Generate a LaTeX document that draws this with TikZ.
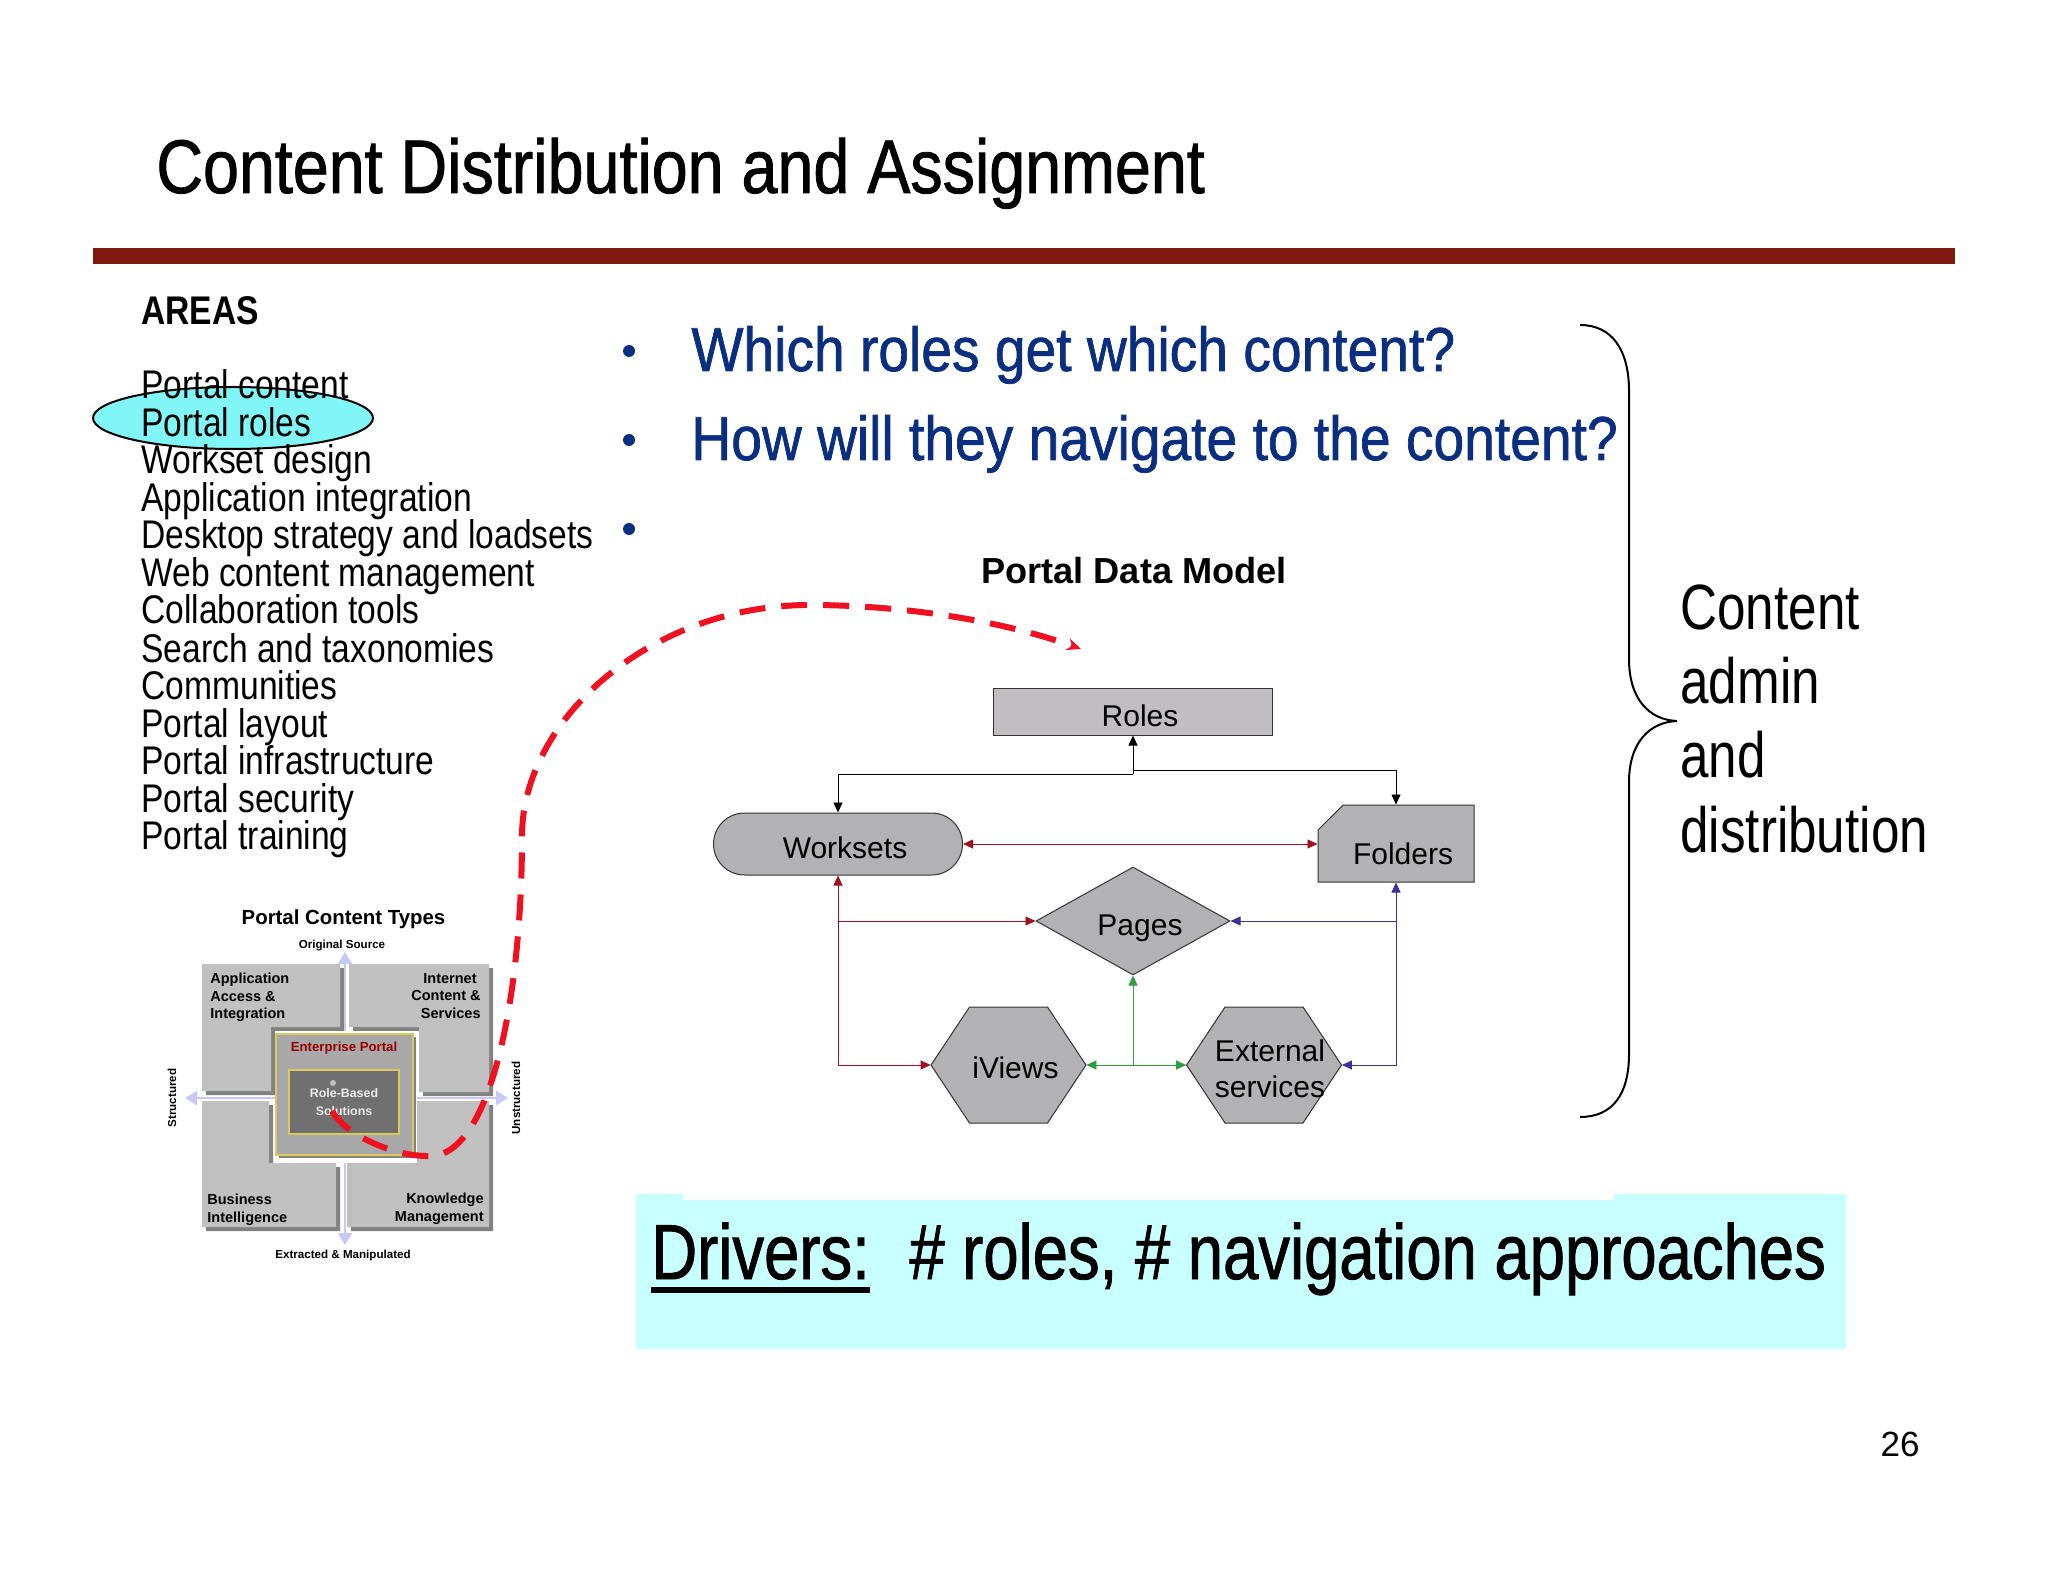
\documentclass[tikz,border=0pt]{standalone}
\usepackage{fontspec}
\setmainfont{Liberation Sans}
\newfontfamily\narrow[FakeStretch=0.84]{Liberation Sans}
\newfontfamily\narrowadmin[FakeStretch=0.80]{Liberation Sans}
\newfontfamily\narrowtitle[FakeStretch=0.85,FakeBold=1.1]{Liberation Sans}
\newfontfamily\narrowblue[FakeStretch=0.89,FakeBold=1.1]{Liberation Sans}
\newfontfamily\narrowdrive[FakeStretch=0.813,FakeBold=1.1]{Liberation Sans}
\usetikzlibrary{arrows.meta,shapes.geometric,shapes.misc}
\definecolor{barred}{HTML}{7F1A0E}
\definecolor{navy}{HTML}{0B2F80}
\definecolor{oval}{HTML}{80F6F6}
\definecolor{drivebg}{HTML}{C8FFFF}
\definecolor{boxgrey}{HTML}{B2B1B3}
\definecolor{rolesgrey}{HTML}{C0BEC2}
\definecolor{quadgrey}{HTML}{C0C0C0}
\definecolor{quadshade}{HTML}{828282}
\definecolor{axis}{HTML}{C8C8F5}
\definecolor{goldline}{HTML}{D9C95E}
\definecolor{linkred}{HTML}{A01020}
\definecolor{linkblue}{HTML}{3A3098}
\definecolor{linkgreen}{HTML}{2E9E40}
\definecolor{curvered}{HTML}{F01020}
\newcommand{\nudge}[3]{\hspace*{#1}\raisebox{#2}[\height][\depth]{#3}}
\tikzset{
  area/.style={anchor=base west,inner sep=0pt,font=\narrow\fontsize{20}{20}\selectfont},
  blueline/.style={anchor=base west,inner sep=0pt,text=navy,font=\narrowblue\fontsize{31}{31}\selectfont},
  adminline/.style={anchor=base west,inner sep=0pt,font=\narrowadmin\fontsize{32}{32}\selectfont},
  bulletdot/.style={circle,fill=navy,minimum size=6pt,inner sep=0pt},
  modelbox/.style={draw=black!80,line width=0.5pt,fill=boxgrey,inner sep=0pt,font=\fontsize{15}{18}\selectfont},
  hexbody/.style={draw=black!80,line width=0.5pt,fill=boxgrey},
  hextext/.style={inner sep=0pt,minimum width=77.5pt,minimum height=58pt,font=\fontsize{15}{18}\selectfont},
  tip/.style={-{Triangle[length=5pt,width=4.5pt]}},
  both/.style={{Triangle[length=5pt,width=4.5pt]}-{Triangle[length=5pt,width=4.5pt]}},
  quad/.style={fill=quadgrey},
  quadshadow/.style={fill=quadshade},
  axisline/.style={draw=axis,line width=1.3pt,{Triangle[length=6pt,width=7pt]}-{Triangle[length=6pt,width=7pt]}},
  small/.style={inner sep=0pt,font=\bfseries\fontsize{5.8}{7}\selectfont},
  quadtext/.style={inner sep=0pt,font=\bfseries\fontsize{7.25}{8.75}\selectfont},
}
\begin{document}
\begin{tikzpicture}[x=0.5pt,y=-0.5pt]
\useasboundingbox (0,0) rectangle (2048,1582);
% title
\node[anchor=base west,inner sep=0pt,font=\narrowtitle\fontsize{38}{38}\selectfont] (title) at (156,193) {Content Distribution and Assignment};
\fill[barred] (93,248) rectangle (1955,264);

% left list
\node[area,font=\narrow\bfseries\fontsize{20}{20}\selectfont] (areas) at (141,325) {AREAS};
\node[ellipse,draw=black,line width=1pt,fill=oval,minimum width=140pt,minimum height=31pt,inner sep=0pt] (oval) at (233,418) {};
\node[area] (l1) at (141,399) {Portal content};
\node[area] (l2) at (141,437) {Portal roles};
\node[area] (l3) at (141,474) {Workset design};
\node[area] (l4) at (141,512) {Application integration};
\node[area] (l5) at (141,549) {Desktop strategy and loadsets};
\node[area] (l6) at (141,587) {Web content management};
\node[area] (l7) at (141,624) {Collaboration tools};
\node[area] (l8) at (141,662) {Search and taxonomies};
\node[area] (l9) at (141,699) {Communities};
\node[area] (l10) at (141,737) {Portal layout};
\node[area] (l11) at (141,774) {Portal infrastructure};
\node[area] (l12) at (141,812) {Portal security};
\node[area] (l13) at (141,849) {Portal training};

% questions
\node[bulletdot] (b1) at (629,351) {};
\node[bulletdot] (b2) at (629,440) {};
\node[bulletdot] (b3) at (629,529) {};
\node[blueline] (q1) at (691,371) {Which roles get which content?};
\node[blueline] (q2) at (691,460) {How will they navigate to the content?};

% brace
\coordinate (bracetop) at (1580,325);
\coordinate (bracetip) at (1677,721);
\coordinate (bracebot) at (1580,1117);
\draw[line width=1pt] (bracetop) .. controls (1612,325) and (1629,350) .. (1629,391) -- (1629,659) .. controls (1629,700) and (1650,720) .. (bracetip) .. controls (1650,722) and (1629,742) .. (1629,782) -- (1629,1054) .. controls (1629,1095) and (1612,1117) .. (bracebot);
\node[adminline] (c1) at (1680,629) {Content};
\node[adminline] (c2) at (1680,703) {admin};
\node[adminline] (c3) at (1680,777) {and};
\node[adminline] (c4) at (1680,852) {distribution};

% data model boxes
\node[inner sep=0pt,font=\bfseries\fontsize{18.1}{20}\selectfont] (dmtitle) at (1134,571) {Portal Data Model};
\node[modelbox,fill=rolesgrey,minimum width=139.5pt,minimum height=23.5pt] (roles) at (1133,711.5) {\nudge{7pt}{-2.2pt}{Roles}};
\node[modelbox,rounded rectangle,minimum width=124.5pt,minimum height=31pt] (worksets) at (838,844) {\nudge{7pt}{-2pt}{Worksets}};
\node[modelbox,chamfered rectangle,chamfered rectangle corners=north west,chamfered rectangle xsep=16pt,chamfered rectangle ysep=7pt,minimum width=78pt,minimum height=38.5pt] (folders) at (1396,843.5) {\nudge{7pt}{-5pt}{Folders}};
\node[modelbox,diamond,aspect=1.8,minimum width=97pt,minimum height=54pt] (pages) at (1133,921) {\nudge{7pt}{-3.5pt}{Pages}};
\foreach \cx in {1008.5,1264}
  \draw[hexbody] (\cx-77.5,1065) -- (\cx-39,1007) -- (\cx+39,1007) -- (\cx+77.5,1065) -- (\cx+39,1123) -- (\cx-39,1123) -- cycle;
\node[hextext] (iviews) at (1008.5,1065) {\nudge{7pt}{-1.5pt}{iViews}};
\node[hextext] (external) at (1264,1065) {\nudge{6pt}{-3.5pt}{\begin{tabular}{@{}l@{}}External\\services\end{tabular}}};

% links
\coordinate (wkup) at (1133,774);
\coordinate (flup) at (1133,770);
\coordinate (wpage) at (838,921);
\coordinate (fpage) at (1396,921);
\coordinate (ibot) at (838,1065);
\coordinate (ebot) at (1396,1065);
\coordinate (gmid) at (1133,1065);
\draw[tip] (wkup) -- (roles.south);
\draw[tip] (wkup) -| (worksets.north);
\draw[tip] (flup) -| (folders.north -| fpage);
\draw[both,linkred] (worksets.east) -- (folders.west |- worksets.east);
\draw[both,linkred] (worksets.south) -- (ibot) -- (iviews.west);
\draw[tip,linkred] (wpage) -- (pages.west);
\draw[both,linkblue] (folders.south) -- (ebot) -- (external.east);
\draw[tip,linkblue] (fpage) -- (pages.east);
\draw[both,linkgreen] (iviews.east) -- (external.west);
\draw[tip,linkgreen] (gmid) -- (pages.south);

% content types
\node[inner sep=0pt,font=\bfseries\fontsize{10.2}{12}\selectfont] (pctitle) at (343.5,919) {Portal Content Types};
\node[small] (orig) at (342,946) {Original Source};
\node[small] (extr) at (343,1255) {Extracted \& Manipulated};
\node[small,rotate=90] (struct) at (172,1098) {Structured};
\node[small,rotate=90] (unstruct) at (516,1098) {Unstructured};
\foreach \dx/\dy/\sty in {4/4/quadshadow,0/0/quad} {
  \fill[\sty,shift={(\dx,\dy)}] (202,964) -- (340,964) -- (340,1027) -- (271,1027) -- (271,1091) -- (202,1091) -- cycle;
  \fill[\sty,shift={(\dx,\dy)}] (349,964) -- (489,964) -- (489,1092) -- (419,1092) -- (419,1027) -- (349,1027) -- cycle;
  \fill[\sty,shift={(\dx,\dy)}] (202,1101) -- (269,1101) -- (269,1163) -- (336,1163) -- (336,1227) -- (202,1227) -- cycle;
  \fill[\sty,shift={(\dx,\dy)}] (417,1101) -- (489,1101) -- (489,1227) -- (347,1227) -- (347,1163) -- (417,1163) -- cycle;
}
\node[inner sep=0pt,minimum size=1pt] (axleft) at (185,1098) {};
\node[inner sep=0pt,minimum size=1pt] (axright) at (508,1098) {};
\node[inner sep=0pt,minimum size=1pt] (axtop) at (345,952) {};
\node[inner sep=0pt,minimum size=1pt] (axbot) at (345,1245) {};
\draw[axisline] (axleft.center) -- (axright.center);
\draw[axisline] (axtop.center) -- (axbot.center);
\fill[white] (275,1031) rectangle (417,1163);
\fill[quadshade] (279,1037) rectangle (416,1158);
\node[draw=goldline,line width=0.6pt,fill=black!34,minimum width=68.5pt,minimum height=60.5pt,inner sep=0pt] (portal) at (344.5,1094.5) {};
\node[inner sep=0pt,text=red!60!black,font=\bfseries\fontsize{6.6}{8}\selectfont] (portaltext) at (344,1048) {Enterprise Portal};
\node[draw=goldline,line width=0.6pt,fill=black!56,minimum width=55pt,minimum height=32pt,inner sep=0pt,align=center,text=white!92!black,font=\bfseries\fontsize{6.2}{9}\selectfont] (role) at (344,1102) {Role-Based\\Solutions};
\fill[black!25] (333,1083) circle (3);
\node[quadtext,anchor=north west,align=left] (appl) at (210,973) {Application\\Access \&\\Integration};
\node[quadtext,anchor=north east,align=right] (inet) at (481,973) {Internet\hspace*{2pt}\\Content \&\\Services};
\node[quadtext,anchor=north west,align=left] (bi) at (207,1194) {Business\\Intelligence};
\node[quadtext,anchor=north east,align=right] (km) at (484,1193) {Knowledge\\Management};

% red curve
\coordinate (curvestart) at (332,1111);
\coordinate (curveend) at (1081,649);
\draw[curvered,line width=3pt,dash pattern=on 13pt off 8pt,-{Stealth[length=7pt,width=6pt]}] (curvestart) .. controls (345,1135) and (395,1157) .. (430,1156) .. controls (490,1156) and (522,1000) .. (522,836) .. controls (522,720) and (650,605) .. (810,605) .. controls (900,605) and (1000,620) .. (curveend);

% drivers
\fill[drivebg] (636,1194) -- (683,1194) -- (683,1200) -- (1614,1200) -- (1614,1194) -- (1846,1194) -- (1846,1349) -- (636,1349) -- cycle;
\node[anchor=base west,inner sep=0pt,font=\narrowdrive\fontsize{39}{39}\selectfont] (drivers) at (651,1279) {Drivers:};
\node[anchor=base west,inner sep=0pt,font=\narrowdrive\fontsize{39}{39}\selectfont] (driverrest) at (909,1279) {\# roles, \# navigation approaches};
\draw[line width=2.7pt] ([yshift=-5.5pt]drivers.base west) -- ([yshift=-5.5pt]drivers.base east);

\node[anchor=base,inner sep=0pt,font=\fontsize{17.5}{18}\selectfont] (page) at (1900,1456) {26};
\end{tikzpicture}
\end{document}
